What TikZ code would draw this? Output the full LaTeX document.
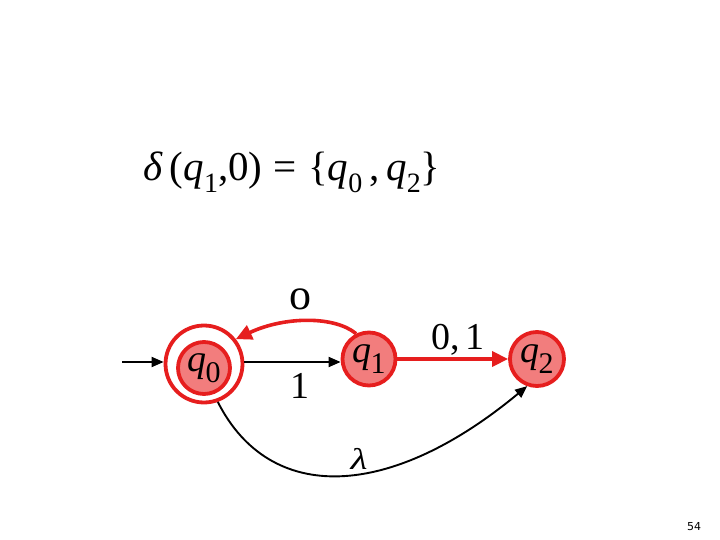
\documentclass[tikz,border=0pt]{standalone}
\usepackage{fontspec}
\setmainfont{Liberation Serif}
\newfontfamily\pagenumfont{DejaVu Sans}
\usetikzlibrary{arrows.meta}
\definecolor{stfill}{RGB}{242,125,125}
\definecolor{stline}{RGB}{230,30,30}
\tikzset{
  state/.style={circle,draw=stline,fill=stfill,line width=3.8pt,inner sep=0pt,minimum size=#1},
  ring/.style={circle,draw=stline,line width=3.8pt,inner sep=0pt,minimum size=#1},
  redarrow/.style={draw=stline,line width=3.6pt,-{Triangle[length=16pt,width=15pt]}},
  blackarrow/.style={draw=black,line width=1.9pt,-{Triangle[length=12pt,width=10pt]}},
  lbl/.style={font=\fontsize{38}{38}\selectfont,inner sep=0pt},
  stlabel/.style={font=\fontsize{38}{38}\selectfont}
}
\newcommand{\stq}[1]{\textit{q}\kern-1pt\raisebox{-0.28em}{\fontsize{30}{30}\selectfont #1}}
\newcommand{\fsub}[1]{\raisebox{-0.3em}{\fontsize{28}{28}\selectfont #1}}
\begin{document}
\begin{tikzpicture}[x=1pt,y=1pt]
\useasboundingbox (0,0) rectangle (720,-540);
% formula
\node[font=\fontsize{41}{41}\selectfont,inner sep=0pt] (formula) at (292,-172)
  {\textit{δ}\,(\textit{q}\fsub{1},0)\;=\;\{\textit{q}\fsub{0}\,,\,\textit{q}\fsub{2}\}};
% states
\node[ring=77pt] (q0o) at (204,-364) {};
\node[state=52pt,stlabel] (q0) at (204,-368) {\stq{0}};
\node[state=53pt,stlabel] (q1) at (369,-359) {\stq{1}};
\node[state=54pt,stlabel] (q2) at (537,-359) {\stq{2}};
% initial
\coordinate (init) at (122,-362);
\draw[blackarrow] (init) -- (init -| q0o.west);
% q0 -> q1
\draw[blackarrow] (q0o.east |- 0,-362) -- (q1.west |- 0,-362);
\node[lbl] (l1) at (300,-386) {1};
% q1 -> q0
\draw[redarrow] (q1.117) .. controls (335,-316) and (285,-316) .. (q0o.38);
\node[font=\fontsize{44}{44}\selectfont,inner sep=0pt] (l0) at (300,-299) {o};
% q1 -> q2
\draw[redarrow] (q1.east) -- (q2.west);
\node[lbl] (l01) at (458,-340) {0,\,1};
% q0 -> q2 lambda
\draw[blackarrow] (q0o.-70) .. controls (270,-505) and (390,-500) .. (q2.-110);
\node[font=\fontsize{30}{30}\selectfont\itshape,inner sep=0pt,xscale=1.3] (llam) at (359,-459) {λ};
% page number
\node[font=\pagenumfont\fontsize{11}{11}\selectfont,inner sep=0pt] (pg) at (694,-527) {54};
\end{tikzpicture}
\end{document}
